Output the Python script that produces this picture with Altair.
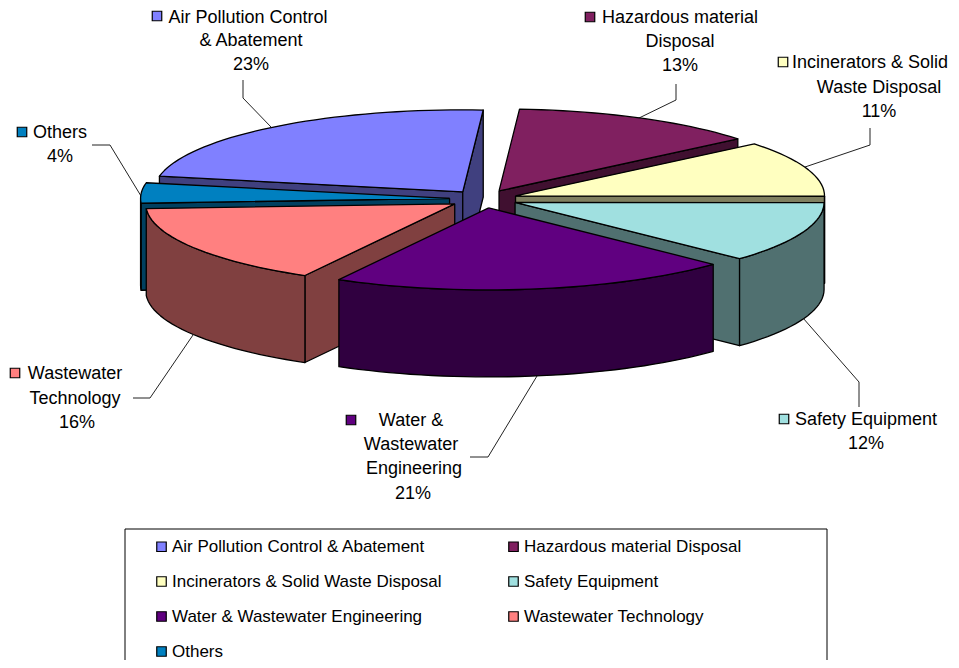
import math
import altair as alt
import pandas as pd

# --- values
categories = ["Air Pollution Control & Abatement", "Hazardous material Disposal",
              "Incinerators & Solid Waste Disposal", "Safety Equipment",
              "Water & Wastewater Engineering", "Wastewater Technology", "Others"]
shares = [23, 13, 11, 12, 21, 16, 4]
top_colors = ["#8080FF", "#802060", "#FFFFC0", "#A0E0E0", "#600080", "#FF8080", "#0080C0"]
wall_colors = ["#40407F", "#401030", "#808060", "#507070", "#300040", "#804040", "#004060"]
paint_order = [0, 6, 1, 2, 3, 5, 4]
legend_order = [0, 2, 4, 6, 1, 3, 5]  # the legend fills column by column

# --- pie geometry (pixel-space parameters of the tilted, exploded pie)
CX, CY = 483.5, 199
RX, RY = 309, 82
DEPTH = 87
EXPLODE = 34
FIRST_ANGLE = 281
W, H = 943, 652


def pt(a, ox, oy, r=1.0, dz=0):
    t = math.radians(a)
    return ox + RX * r * math.sin(t), oy - RY * r * math.cos(t) + dz


rows = []
pid = 0


def add_poly(points, color):
    global pid
    closed = points + [points[0]]
    for k, (x, y) in enumerate(closed):
        rows.append({"poly": pid, "seq": k, "x": x, "y": y, "shade": color})
    pid += 1


spans = []
acc = FIRST_ANGLE
for s in shares:
    spans.append((acc, acc + s * 3.6))
    acc += s * 3.6

for i in paint_order:
    a0, a1 = spans[i]
    mid = math.radians((a0 + a1) / 2)
    ox = CX + EXPLODE * math.sin(mid)
    oy = CY - EXPLODE * RY / RX * math.cos(mid)
    wall = wall_colors[i]
    # radial faces that look towards the viewer
    if 180 < a0 % 360 < 360:
        e = pt(a0, ox, oy)
        add_poly([(ox, oy), e, (e[0], e[1] + DEPTH), (ox, oy + DEPTH)], wall)
    if 0 < a1 % 360 < 180:
        e = pt(a1, ox, oy)
        add_poly([(ox, oy), e, (e[0], e[1] + DEPTH), (ox, oy + DEPTH)], wall)
    # outer curved wall, front half only
    for shift in (0, 360):
        lo, hi = max(a0, 90 + shift), min(a1, 270 + shift)
        if lo < hi:
            n = max(2, int((hi - lo) / 2))
            arc = [pt(lo + (hi - lo) * k / n, ox, oy) for k in range(n + 1)]
            add_poly(arc + [(x, y + DEPTH) for x, y in reversed(arc)], wall)
    # top face
    n = max(2, int((a1 - a0) / 2))
    add_poly([(ox, oy)] + [pt(a0 + (a1 - a0) * k / n, ox, oy) for k in range(n + 1)], top_colors[i])

polys = pd.DataFrame(rows)

# --- data labels and leader lines
label_lines = [
    ("Air Pollution Control", 248, 17.5), ("& Abatement", 251, 41), ("23%", 251, 65),
    ("Hazardous material", 680, 18), ("Disposal", 680, 42), ("13%", 680, 66),
    ("Incinerators & Solid", 870, 63), ("Waste Disposal", 879, 88), ("11%", 879, 112),
    ("Safety Equipment", 866, 420), ("12%", 866, 444),
    ("Water &", 411, 421), ("Wastewater", 411, 445), ("Engineering", 414, 469), ("21%", 413, 494),
    ("Wastewater", 75, 374), ("Technology", 75, 399), ("16%", 77, 423),
    ("Others", 60, 133), ("4%", 60, 157),
]
marker_x = [157, 590, 783, 784, 351, 15, 22]
marker_y = [16, 17, 62, 419, 420, 373, 132]
leaders = [
    [(243, 80), (243, 98), (271, 127)],
    [(676, 84), (676, 100), (637, 119)],
    [(870, 128), (870, 145), (805, 167)],
    [(859, 407), (859, 382), (803, 318)],
    [(470, 457), (488, 457), (537, 376)],
    [(133, 398), (150, 398), (193, 335)],
    [(92, 145), (110, 145), (141, 196)],
]
frame_x = [125, 827]
frame_y = [529, 690]

leader_df = pd.DataFrame([
    {"id": i, "seq": k, "x": p[0], "y": p[1]} for i, line in enumerate(leaders) for k, p in enumerate(line)
])
labels_df = pd.DataFrame(label_lines, columns=["text", "x", "y"])
markers_df = pd.DataFrame({"cat": categories, "x": marker_x, "y": marker_y})
frame_df = pd.DataFrame({"x": [frame_x[0]], "x2": [frame_x[1]], "y": [frame_y[0]], "y2": [frame_y[1]]})

FONT = "Liberation Sans"
xs = alt.Scale(domain=[8, 8 + W], range=[0, W], nice=False, zero=False)
ys = alt.Scale(domain=[8 + H, 8], range=[H, 0], nice=False, zero=False)
X = alt.X("x:Q", scale=xs, axis=None)
Y = alt.Y("y:Q", scale=ys, axis=None)

leader_layer = alt.Chart(leader_df).mark_line(color="#222222", strokeWidth=1).encode(
    x=X, y=Y, detail="id:N", order="seq:Q")

poly_layer = alt.Chart(polys).mark_line(stroke="#000000", strokeWidth=1.3, strokeJoin="round").encode(
    x=X, y=Y, detail="poly:N", order="seq:Q", fill=alt.Fill("shade:N", scale=None))

text_layer = alt.Chart(labels_df).mark_text(font=FONT, fontSize=18, color="#000000", align="center",
                                            baseline="middle").encode(x=X, y=Y, text="text:N")

legend_domain = [categories[i] for i in legend_order]
legend_range = [top_colors[i] for i in legend_order]
marker_layer = alt.Chart(markers_df).mark_square(size=90, stroke="#000000", strokeWidth=1.2, opacity=1).encode(
    x=X, y=Y,
    fill=alt.Fill("cat:N", sort=legend_domain,
                  scale=alt.Scale(domain=legend_domain, range=legend_range),
                  legend=alt.Legend(title=None, orient="none", legendX=145, legendY=530, columns=2,
                                    symbolType="square", symbolSize=90, symbolStrokeColor="#000000",
                                    symbolStrokeWidth=1.2, symbolOpacity=1,
                                    labelFont=FONT, labelFontSize=17, labelColor="#000000", labelLimit=400,
                                    labelOffset=2, rowPadding=17, columnPadding=63, padding=0)))

frame_layer = alt.Chart(frame_df).mark_rect(fill="#FFFFFF", stroke="#000000", strokeWidth=1).encode(
    x=X, x2="x2:Q", y=Y, y2="y2:Q")

chart = alt.layer(frame_layer, leader_layer, poly_layer, marker_layer, text_layer).resolve_scale(
    fill="independent"
).properties(
    width=W, height=H, padding=0,
    autosize=alt.AutoSizeParams(type="none", contains="padding"),
).configure_view(stroke=None)

chart.save("out.html", embed_options={"renderer": "svg", "actions": False})
